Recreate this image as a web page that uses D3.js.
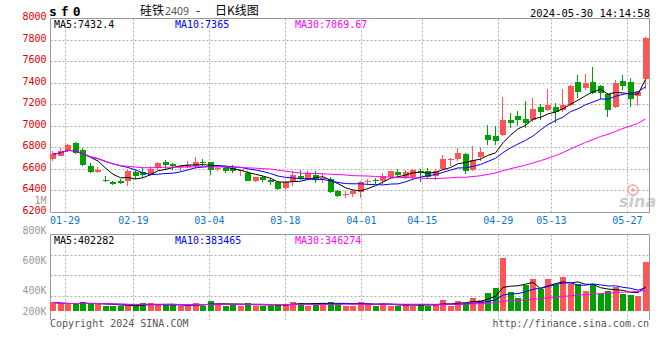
<!DOCTYPE html>
<html><head><meta charset="utf-8">
<script src="https://cdn.jsdelivr.net/npm/d3@7"></script>
<style>
body{margin:0;background:#fff}
svg{display:block}
text{font-family:"DejaVu Sans Mono",monospace;font-size:10px}
</style>
</head><body>
<svg id="c" width="660" height="360"></svg>
<script>
// ---------- data ----------
const dates = ["01-25","01-26","01-29","01-30","01-31","02-01","02-02","02-05","02-06","02-07","02-08",
"02-19","02-20","02-21","02-22","02-23","02-26","02-27","02-28","02-29",
"03-01","03-04","03-05","03-06","03-07","03-08","03-11","03-12","03-13","03-14","03-15",
"03-18","03-19","03-20","03-21","03-22","03-25","03-26","03-27","03-28","03-29",
"04-01","04-02","04-03","04-08","04-09","04-10","04-11","04-12","04-15","04-16","04-17","04-18","04-19",
"04-22","04-23","04-24","04-25","04-26","04-29","04-30",
"05-06","05-07","05-08","05-09","05-10","05-13","05-14","05-15","05-16","05-17",
"05-20","05-21","05-22","05-23","05-24","05-27","05-28","05-29","05-30"];
const open  = [6695,6727,6767,6845,6776,6635,6573,6505,6484,6490,6492,6573,6573,6545,6614,6665,6651,6619,6623,6628,
6665,6665,6600,6614,6614,6582,6567,6490,6527,6505,6480,6428,6480,6542,6515,6545,6512,6515,6397,6367,
6373,6390,6484,6499,6492,6527,6575,6518,6525,6589,6589,6536,6607,6684,6697,6746,6591,6715,6915,6906,
6919,7054,7100,7063,7054,7181,7147,7181,7147,7193,7412,7357,7412,7372,7301,7181,7424,7412,7285,7440];
const high  = [6770,6800,6840,6850,6800,6660,6619,6536,6496,6512,6592,6598,6614,6628,6665,6684,6660,6644,6675,6712,
6697,6670,6635,6628,6644,6605,6582,6530,6536,6521,6490,6490,6582,6591,6582,6582,6567,6530,6413,6397,
6413,6490,6512,6521,6562,6585,6607,6591,6607,6604,6614,6604,6737,6706,6799,6752,6814,6808,7014,6998,
7271,7125,7141,7234,7264,7209,7347,7218,7350,7380,7474,7486,7548,7387,7310,7434,7474,7449,7320,7830];
const low   = [6680,6720,6760,6745,6628,6567,6568,6487,6456,6466,6443,6512,6530,6540,6598,6598,6591,6582,6614,6614,
6628,6545,6582,6567,6567,6542,6490,6485,6480,6459,6413,6406,6443,6499,6505,6475,6475,6382,6345,6330,
6342,6336,6459,6468,6462,6520,6527,6515,6505,6480,6521,6505,6598,6628,6675,6561,6582,6675,6829,6829,
6910,6987,7002,6987,7042,7054,7141,7033,7135,7185,7264,7341,7295,7249,7085,7165,7341,7178,7190,7350];
const close = [6740,6767,6823,6755,6640,6573,6598,6496,6466,6478,6582,6536,6552,6607,6660,6641,6628,6628,6644,6665,
6656,6598,6610,6582,6582,6591,6490,6527,6499,6480,6422,6480,6552,6515,6567,6505,6521,6388,6357,6376,
6403,6480,6496,6490,6543,6582,6545,6575,6598,6573,6530,6589,6697,6697,6752,6582,6684,6758,6876,6866,
7054,7033,7054,7033,7162,7135,7193,7132,7193,7372,7320,7403,7310,7310,7147,7403,7378,7255,7316,7822];
const volume = [143210,116480,115930,116720,149340,116050,115820,88410,87960,88630,
88220,88750,132140,131870,99320,98860,99410,88160,88540,132610,
88020,171280,116340,88470,115760,88310,132420,88190,87880,88540,
116210,116630,149150,132380,88270,132050,131760,148920,132310,88460,
88120,149270,116390,88340,116520,88610,88270,116130,88450,116280,
88390,116170,182340,88520,165180,132460,220370,182150,298240,386410,
875320,314260,220180,430470,529310,358140,529460,430280,562350,446170,
446320,331280,430150,281240,331460,391380,281170,264230,254310,819740];

const priceTicks = [6200,6400,6600,6800,7000,7200,7400,7600,7800,8000];
const dateLabels = ["01-29","02-19","03-04","03-18","04-01","04-15","04-29","05-13","05-27"];
const volTickLabels = ["1M","800K","600K","400K","200K"];
const maPeriods = [5,10,30];
const priceLegend = ["MA5:7432.4","MA10:7365","MA30:7069.67"];
const volLegend = ["MA5:402282","MA10:383465","MA30:346274"];
const titleCode = "sf0";
const titleName = ["硅铁","2409","-","日K线图"];
const timestamp = "2024-05-30 14:14:58";
const copyright = "Copyright 2024 SINA.COM";
const siteUrl = "http://finance.sina.com.cn";

// ---------- layout / style ----------
const UP="#ff5555", DN="#00a000";
const maColors=["#000000","#0000ff","#ff00ff"];
const X0=50.5, X1=649.5, PT=18.5, PB=212.5, VT=234.5, VB=311, VEND=320;
const GRID="#b0b0b0", BORDER="#999";

const svg=d3.select("#c");
const xb=d3.scaleBand().domain(dates).range([49.3,649.3]);
const xg=d3.scalePoint().domain(dates).range([49.8,650.2]);
const yp=d3.scaleLinear().domain([6200,8000]).range([PB,PT]);
const yv=d3.scaleLinear().domain([0,1270000]).range([VB,VT]);
const cx=d=>xb(d)+xb.bandwidth()/2;

function ma(arr,n){return arr.map((v,i)=>{const s=arr.slice(Math.max(0,i-n+1),i+1);return d3.mean(s);});}

// ---------- grid ----------
const gp=svg.append("g");
priceTicks.slice(1,-1).forEach(v=>{
  const y=Math.round(yp(v)-0.5)+0.5;
  gp.append("line").attr("x1",X0).attr("x2",X1).attr("y1",y).attr("y2",y)
    .attr("stroke",GRID).attr("stroke-dasharray","2,2");
});
dateLabels.forEach(d=>{
  const x=Math.round(xg(d)-0.5)+0.5;
  gp.append("line").attr("x1",x).attr("x2",x).attr("y1",PT).attr("y2",PB)
    .attr("stroke",GRID).attr("stroke-dasharray","2,2");
  gp.append("line").attr("x1",x).attr("x2",x).attr("y1",VT).attr("y2",VEND)
    .attr("stroke",GRID).attr("stroke-dasharray","2,2");
});
[1,2,3].forEach(k=>{
  const y=Math.round(VT+k*20.5-0.5)+0.5;
  gp.append("line").attr("x1",X0).attr("x2",X1).attr("y1",y).attr("y2",y)
    .attr("stroke",GRID).attr("stroke-dasharray","2,2");
});

// ---------- watermark ----------
const wm=svg.append("g");
wm.append("circle").attr("cx",633).attr("cy",190).attr("r",5).attr("fill","none").attr("stroke","#f2b4b4").attr("stroke-width",2);
wm.append("circle").attr("cx",633).attr("cy",190).attr("r",1.8).attr("fill","#e9a0a0");
wm.append("text").attr("x",619).attr("y",207).text("sina")
  .style("font-family","DejaVu Sans").style("font-size","16px").style("font-weight","bold").style("font-style","italic")
  .attr("fill","#cccccc");

// ---------- borders ----------
const b=svg.append("g").attr("stroke",BORDER).attr("fill","none");
b.append("path").attr("d",`M${X0},${PT}H${X1}V${PB}H${X0}Z`);
b.append("path").attr("d",`M${X0},${VEND}V${VT}H${X1}V${VEND}`);

// ---------- candles ----------
const cg=svg.append("g");
dates.forEach((d,i)=>{
  const up=close[i]>=open[i];
  const col=up?UP:DN;
  const left=Math.round(cx(d)-3);
  cg.append("line").attr("x1",left+2.5).attr("x2",left+2.5)
    .attr("y1",Math.round(yp(high[i]))).attr("y2",Math.round(yp(low[i])))
    .attr("stroke",col).attr("stroke-width",1);
  const yt=Math.round(yp(Math.max(open[i],close[i])));
  const ybm=Math.round(yp(Math.min(open[i],close[i])));
  cg.append("rect").attr("x",left).attr("y",yt).attr("width",6).attr("height",Math.max(1,ybm-yt)).attr("fill",col);
  // volume
  const vy=Math.round(yv(volume[i]));
  cg.append("rect").attr("x",left).attr("y",vy).attr("width",6).attr("height",VB-vy).attr("fill",col);
});

// ---------- MA lines ----------
maPeriods.forEach((n,k)=>{
  const m=ma(close,n), mv=ma(volume,n);
  svg.append("path").datum(m).attr("fill","none").attr("stroke",maColors[k]).attr("stroke-width",1)
    .attr("d",d3.line().x((v,i)=>cx(dates[i])).y(v=>yp(v)));
  svg.append("path").datum(mv).attr("fill","none").attr("stroke",maColors[k]).attr("stroke-width",1)
    .attr("d",d3.line().x((v,i)=>cx(dates[i])).y(v=>yv(v)));
});

// ---------- axis labels ----------
priceTicks.forEach(v=>{
  svg.append("text").attr("x",46.5).attr("y",yp(v)-2).attr("text-anchor","end")
    .attr("dominant-baseline","central").attr("fill","#e00000").text(v);
});
const volLabelY=[200,230,260,290.7,311];
volTickLabels.forEach((t,i)=>{
  svg.append("text").attr("x",46.5).attr("y",volLabelY[i]).attr("text-anchor","end")
    .attr("dominant-baseline","central").attr("fill","#999").text(t);
});
dateLabels.forEach(d=>{
  svg.append("text").attr("x",xg(d)).attr("y",220.5).attr("text-anchor","middle")
    .attr("dominant-baseline","central").attr("fill","#0a78d0").text(d);
});

// ---------- legends ----------
const legX=[54,175,295];
priceLegend.forEach((t,k)=>svg.append("text").attr("x",legX[k]).attr("y",24).attr("dominant-baseline","central").attr("fill",maColors[k]).text(t));
volLegend.forEach((t,k)=>svg.append("text").attr("x",legX[k]).attr("y",240).attr("dominant-baseline","central").attr("fill",maColors[k]).text(t));

// ---------- titles ----------
svg.append("text").attr("x",49).attr("y",16).text(titleCode)
  .style("font-size","13px").style("font-weight","bold").style("letter-spacing","4px").attr("fill","#000");
const tx=[140,165,196,215];
titleName.forEach((t,i)=>{
  const el=svg.append("text").attr("x",tx[i]).attr("y",15).text(t).attr("fill",i===1?"#555":"#000");
  if(i===1) el.style("font-family","Noto Sans").style("font-size","10.5px");
  else el.style("font-family","'Noto Sans CJK SC'").style("font-size","12px");
});
svg.append("text").attr("x",650).attr("y",16.5).attr("text-anchor","end").attr("fill","#000")
  .style("font-size","10.5px").text(timestamp);
svg.append("text").attr("x",50).attr("y",327).attr("fill","#555").text(copyright);
svg.append("text").attr("x",649).attr("y",327).attr("text-anchor","end").attr("fill","#555").text(siteUrl);
</script>
</body></html>
